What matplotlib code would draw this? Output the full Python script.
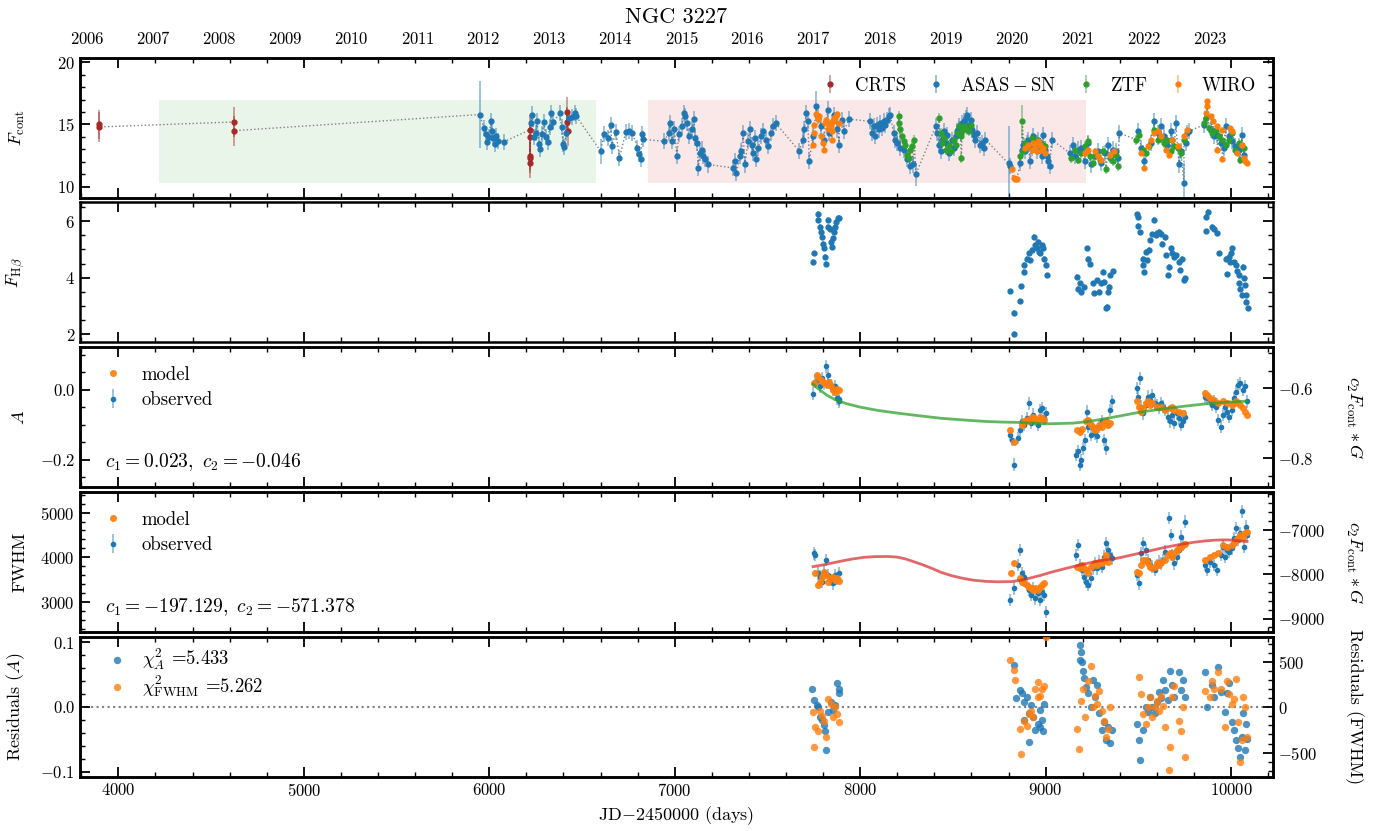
import numpy as np
import matplotlib
matplotlib.use('Agg')
import matplotlib.pyplot as plt
from matplotlib.ticker import MultipleLocator
from matplotlib.colors import to_rgba

plt.rcParams.update({
    'font.family': 'serif',
    'font.serif': ['cmr10'],
    'mathtext.fontset': 'cm',
    'axes.formatter.use_mathtext': True,
    'font.size': 12,
    'axes.linewidth': 1.8,
    'xtick.direction': 'in',
    'ytick.direction': 'in',
    'xtick.top': True,
    'ytick.right': True,
    'xtick.major.size': 7,
    'ytick.major.size': 7,
    'xtick.minor.size': 3.5,
    'ytick.minor.size': 3.5,
    'xtick.major.width': 1.3,
    'ytick.major.width': 1.3,
    'xtick.minor.width': 1.0,
    'ytick.minor.width': 1.0,
    'xtick.labelsize': 12,
    'ytick.labelsize': 12,
})

# ---------------- continuum light curve (JD - 2450000, flux) ----------------
crts_t = [3896, 3898, 4623, 4625, 6217, 6218, 6219, 6220, 6221, 6420, 6421, 6422]
crts_f = [15.0, 14.8, 15.2, 14.5, 14.55, 14.0, 12.5, 12.3, 11.9, 16.0, 15.2, 14.5]

asas_t = [5949, 5970, 5980, 5990, 6000, 6008, 6015, 6022, 6030, 6038, 6045, 6078,
          6223, 6232, 6240, 6250, 6258, 6268, 6276, 6285, 6295, 6305, 6315, 6325, 6335, 6346,
          6380, 6390, 6398, 6405, 6415, 6430, 6445, 6460, 6467,
          6601, 6617, 6638, 6656, 6660, 6683, 6702, 6736, 6754, 6772, 6799, 6807, 6816, 6825, 6830,
          6941, 6968, 6977, 6986, 6998, 7012, 7021, 7039, 7048, 7057, 7066, 7075, 7093, 7102,
          7111, 7119, 7128, 7134, 7146, 7155, 7164, 7182,
          7316, 7325, 7333, 7351, 7360, 7369, 7378, 7396, 7405, 7414, 7422, 7431, 7440, 7449,
          7467, 7476, 7494, 7503, 7521, 7529, 7544,
          7672, 7690, 7699, 7708, 7717, 7726, 7744, 7762, 7770, 7788, 7806, 7824, 7833, 7851,
          7860, 7877, 7886, 7904, 7913, 7939,
          8055, 8064, 8073, 8082, 8091, 8100, 8109, 8118, 8127, 8136, 8144, 8153, 8162, 8180,
          8189, 8198, 8216, 8234, 8252, 8269, 8287, 8300,
          8407, 8416, 8425, 8434, 8443, 8452, 8461, 8470, 8479, 8496, 8505, 8514, 8523, 8532,
          8541, 8550, 8559, 8568, 8577, 8586, 8595, 8604, 8613, 8621, 8630, 8648, 8657, 8666, 8675,
          8800, 8809, 8863, 8871, 8880, 8889, 8898, 8907, 8916, 8925, 8934, 8943, 8952, 8961,
          8970, 8979, 8988, 8996, 9005, 9014, 9023, 9032,
          9130, 9148, 9157, 9175, 9193, 9211, 9229, 9246, 9264, 9282, 9300, 9318, 9336, 9354,
          9362, 9380, 9389, 9398,
          9496, 9514, 9532, 9568, 9586, 9604, 9621, 9639, 9657, 9675, 9684, 9702, 9720, 9729,
          9746, 9755, 9764, 9773,
          9854, 9871, 9889, 9907, 9925, 9943, 9961, 9970, 9988, 10005, 10023, 10041, 10059, 10068]
asas_f = [15.8, 14.7, 14.2, 13.6, 14.0, 15.3, 14.5, 13.9, 13.4, 14.1, 13.7, 13.6,
          15.1, 15.8, 14.0, 14.3, 15.3, 13.4, 13.0, 14.2, 15.2, 14.0, 13.6, 14.8, 15.9, 15.2,
          15.9, 14.8, 13.4, 13.2, 14.3, 15.5, 15.6, 15.9, 15.7,
          12.85, 14.2, 13.9, 14.98, 13.25, 14.4, 12.3, 14.4, 14.45, 14.3, 13.1, 12.6, 12.2, 14.2, 13.8,
          13.65, 14.3, 15.1, 13.65, 14.6, 12.45, 14.2, 14.85, 15.9, 15.65, 15.1, 14.05, 14.6, 15.4,
          13.9, 13.5, 11.5, 12.7, 12.98, 12.45, 12.2, 11.78,
          11.5, 12.05, 11.1, 12.45, 12.85, 14.3, 11.78, 13.65, 14.6, 13.38, 12.7, 13.9, 12.2, 13.1,
          14.05, 14.45, 13.78, 13.25, 14.3, 14.85, 15.1,
          12.85, 13.78, 14.6, 15.9, 15.25, 12.05, 14.05, 16.45, 15.65, 14.85, 13.78, 16.2, 14.3, 15.25,
          15.78, 14.6, 13.38, 15.38, 14.45, 15.43,
          15.25, 14.3, 14.85, 14.05, 14.98, 14.6, 15.1, 14.7, 15.25, 14.98, 15.38, 15.65, 15.78, 14.3,
          13.78, 13.5, 13.1, 12.98, 12.2, 11.65, 11.78, 10.98,
          14.85, 14.31, 13.38, 12.85, 13.78, 14.45, 13.51, 14.18, 12.71, 13.78, 13.11, 14.05, 14.45, 14.85,
          14.31, 15.11, 15.25, 15.51, 15.78, 14.98, 15.38, 14.58, 14.18, 13.78, 14.31, 13.38, 13.51, 13.11, 13.78,
          11.86, 11.65, 11.91, 12.98, 13.38, 12.85, 13.51, 13.78, 12.05, 13.11, 14.05, 13.51, 12.85, 13.78,
          13.25, 12.45, 14.18, 12.98, 12.45, 12.05, 11.65, 13.78,
          12.71, 13.38, 12.45, 12.98, 13.11, 12.05, 13.51, 11.78, 12.45, 12.85, 11.91, 12.71, 13.38, 12.45,
          12.98, 12.85, 12.31, 14.31,
          14.45, 13.11, 12.05, 13.51, 15.25, 14.31, 14.85, 14.05, 13.38, 14.45, 13.78, 15.11, 11.78, 12.85,
          10.31, 13.51, 14.31, 14.45,
          14.98, 15.65, 14.58, 14.05, 14.18, 13.51, 13.11, 14.85, 14.05, 13.65, 13.25, 12.98, 14.18, 12.58]
# points with much larger uncertainties than the typical ASAS-SN error
asas_big_err = {5949: 2.7, 6601: 1.0, 7762: 1.2, 8300: 0.9, 8800: 3.0, 9746: 1.6}

ztf_t = [8207, 8211, 8216, 8225, 8234, 8243, 8252, 8261, 8269, 8278, 8292,
         8425, 8434, 8443, 8452, 8461, 8479, 8488, 8505, 8514, 8523, 8532, 8541, 8546, 8550,
         8559, 8577, 8586, 8595,
         8863, 8875, 8880, 8889, 8907, 8925, 8952, 8961, 8979, 8996,
         9139, 9157, 9175, 9193, 9211, 9229, 9237, 9255, 9273, 9291, 9309, 9327, 9345, 9362, 9380, 9389,
         9487, 9505, 9523, 9541, 9559, 9586, 9604, 9621, 9639, 9657, 9675, 9693, 9711, 9729, 9746,
         9854, 9862, 9880, 9898, 9916, 9934, 9952, 9970, 9988, 10005, 10023, 10041, 10050, 10068]
ztf_f = [15.65, 15.1, 14.6, 14.05, 13.65, 13.38, 12.58, 12.3, 12.98, 13.25, 13.78,
         15.51, 14.31, 13.51, 13.91, 12.98, 13.38, 12.85, 13.78, 13.38, 14.31, 14.85, 14.05, 12.31, 14.58,
         14.85, 14.58, 14.45, 14.98,
         12.45, 15.25, 12.85, 13.51, 13.25, 13.91, 13.78, 13.51, 13.38, 13.25,
         12.31, 12.98, 12.18, 12.71, 13.25, 13.65, 12.45, 11.91, 12.58, 12.18, 12.85, 11.38, 12.31, 12.05, 12.58, 11.65,
         13.78, 14.18, 12.98, 12.71, 13.25, 14.58, 13.78, 13.91, 13.51, 13.78, 12.85, 13.25, 13.11, 12.71, 13.78,
         15.11, 15.51, 14.71, 14.31, 14.58, 14.05, 13.78, 13.38, 13.78, 14.31, 12.98, 13.51, 12.18, 13.11]

wiro_t = [7744, 7749, 7752, 7761, 7770, 7779, 7788, 7797, 7806, 7811, 7818, 7824, 7833, 7842,
          7847, 7850, 7854, 7860, 7868, 7877, 7886,
          8818, 8827, 8836, 8845, 8889, 8907, 8925, 8934, 8943, 8952, 8961, 8970, 8979, 8988, 8996,
          9211, 9229, 9264, 9282, 9300, 9345, 9371,
          9514, 9532, 9550, 9568, 9586, 9604, 9621, 9648, 9666, 9684, 9711, 9746, 9764,
          9862, 9868, 9871, 9893, 9904, 9925, 9926, 9952, 9953, 9996, 10005, 10032, 10059, 10068,
          10077, 10086]
wiro_f = [13.38, 14.3, 14.98, 15.86, 15.43, 15.65, 14.05, 13.5, 12.98, 15.1, 15.38, 14.6, 15.1, 14.85,
          13.78, 14.45, 15.25, 15.51, 15.7, 15.86, 15.1,
          11.38, 10.71, 10.58, 10.63, 13.11, 13.38, 12.98, 13.51, 13.25, 12.85, 13.65, 13.38, 12.98, 13.11, 12.71,
          12.71, 12.98, 12.85, 12.45, 12.18, 12.58, 12.85,
          12.71, 11.51, 13.25, 13.78, 14.31, 14.45, 14.05, 12.98, 12.58, 13.78, 13.25, 14.05, 14.58,
          15.91, 16.85, 16.45, 15.65, 15.25, 14.85, 12.98, 14.58, 12.24, 14.71, 14.45, 12.71, 13.38, 12.31,
          12.05, 11.91]

# ---------------- H-beta line flux ----------------
hb_t = [7746, 7753, 7770, 7774, 7781, 7789, 7793, 7800, 7805, 7812, 7817, 7824, 7829, 7836,
        7841, 7846, 7853, 7860, 7865, 7872, 7879, 7888,
        8810, 8827, 8831, 8862, 8869, 8881, 8886, 8898, 8910, 8917, 8929, 8938, 8945, 8952,
        8957, 8964, 8971, 8981, 8986, 8993, 9000, 9005,
        9171, 9176, 9183, 9190, 9207, 9223, 9230, 9238, 9254, 9261, 9278, 9290, 9297, 9309,
        9314, 9325, 9333, 9337, 9344, 9349, 9361,
        9492, 9499, 9496, 9508, 9523, 9527, 9532, 9539, 9546, 9556, 9565, 9575, 9584, 9594,
        9603, 9613, 9622, 9629, 9641, 9651, 9660, 9665, 9675, 9684, 9694, 9705, 9717, 9724,
        9736, 9746, 9753,
        9862, 9867, 9874, 9895, 9907, 9926, 9936, 9974, 9979, 9990, 9992, 9998, 10005, 10014,
        10026, 10031, 10040, 10045, 10050, 10057, 10064, 10069, 10074, 10078, 10083, 10090]
hb_f = [4.56, 4.86, 6.27, 6.04, 5.8, 5.62, 5.45, 5.21, 5.04, 4.74, 4.5, 5.8, 6.04, 5.74,
        5.27, 5.09, 5.39, 5.62, 5.8, 5.98, 6.1, 6.12,
        3.53, 2.77, 2.03, 3.17, 3.7, 4.21, 4.45, 4.68, 4.86, 4.62, 4.98, 5.45, 5.15, 5.04,
        5.27, 4.92, 4.86, 5.15, 5.04, 4.68, 4.45, 4.09,
        4.03, 3.62, 3.8, 3.5, 3.68, 5.04, 4.68, 4.5, 3.8, 3.45, 3.92, 3.5, 3.8, 4.21,
        3.86, 2.92, 2.97, 3.5, 3.68, 4.09, 4.23,
        6.24, 6.15, 5.84, 5.6, 4.68, 4.45, 4.19, 4.92, 4.62, 4.98, 5.33, 5.53, 6.04, 5.51,
        5.57, 5.62, 5.53, 5.21, 5.45, 4.8, 4.09, 4.39, 5.04, 4.86, 4.74, 4.8, 4.56, 4.27,
        4.68, 3.92, 3.98,
        5.65, 6.15, 6.33, 5.8, 5.74, 5.57, 4.86, 4.68, 4.12, 4.74, 4.56, 4.86, 5.04, 4.54,
        4.45, 4.23, 4.09, 3.8, 3.62, 3.39, 4.39, 3.98, 3.74, 3.39, 3.15, 2.92]

# ---------------- line asymmetry A ----------------
a_obs_t = [7746, 7758, 7770, 7781, 7793, 7805, 7817, 7824, 7829, 7841, 7853, 7865, 7877, 7884, 7888,
           8810, 8819, 8829, 8850, 8862, 8874, 8886, 8898, 8910, 8922, 8933, 8945, 8957, 8969,
           8981, 8993, 9000,
           9166, 9176, 9183, 9190, 9200, 9214, 9223, 9230, 9242, 9254, 9266, 9278, 9290, 9302,
           9314, 9325, 9337, 9349, 9356,
           9492, 9499, 9508, 9515, 9527, 9539, 9551, 9563, 9575, 9587, 9599, 9610, 9622, 9634,
           9646, 9658, 9670, 9682, 9694, 9706, 9717, 9729, 9741, 9753,
           9860, 9872, 9884, 9895, 9907, 9919, 9931, 9943, 9955, 9967, 9979, 9991, 10003, 10015,
           10026, 10038, 10050, 10062, 10074, 10086]
a_obs = [-0.011, 0.024, 0.029, 0.010, 0.033, 0.019, 0.067, 0.043, 0.024, 0.014, 0.0, 0.010, -0.024, -0.033, -0.027,
         -0.129, -0.143, -0.214, -0.138, -0.114, -0.090, -0.100, -0.081, -0.038, -0.095, -0.071, -0.086, -0.100, -0.057,
         -0.052, -0.081, -0.067,
         -0.186, -0.176, -0.214, -0.200, -0.167, -0.143, -0.062, -0.105, -0.129, -0.110, -0.124, -0.133, -0.105, -0.090,
         -0.143, -0.167, -0.095, -0.057, -0.033,
         0.005, -0.019, 0.033, -0.048, -0.067, -0.043, -0.019, -0.029, -0.014, -0.038, -0.043, -0.052, -0.038, -0.048,
         -0.057, -0.076, -0.090, -0.071, -0.095, -0.067, -0.081, -0.100, -0.090, -0.076,
         -0.019, -0.024, -0.029, -0.043, -0.033, -0.048, -0.086, -0.105, -0.071, -0.048, -0.062, -0.076, -0.057, -0.024,
         -0.005, 0.014, 0.019, 0.0, 0.010, -0.033]
a_mod_t = [7751, 7765, 7774, 7789, 7798, 7812, 7822, 7831, 7841, 7853, 7865, 7877, 7888,
           8810, 8827, 8874, 8886, 8898, 8910, 8922, 8933, 8945, 8957, 8969, 8981, 8993,
           9171, 9183, 9195, 9219, 9230, 9242, 9254, 9266, 9278, 9290, 9302, 9314, 9325, 9337, 9349,
           9492, 9503, 9515, 9527, 9539, 9551, 9563, 9575, 9599, 9622, 9646, 9670, 9682, 9694, 9717, 9741,
           9860, 9872, 9888, 9907, 9931, 9955, 9979, 10003, 10015, 10026, 10038, 10050, 10062, 10074, 10086]
a_mod = [0.019, 0.043, 0.038, 0.029, 0.024, 0.019, 0.014, 0.024, 0.010, 0.0, -0.005, 0.002, 0.0,
         -0.114, -0.148, -0.100, -0.090, -0.086, -0.090, -0.081, -0.078, -0.084, -0.086, -0.076, -0.081, -0.086,
         -0.114, -0.119, -0.112, -0.090, -0.086, -0.100, -0.107, -0.114, -0.110, -0.100, -0.107, -0.095, -0.090, -0.100, -0.095,
         -0.033, -0.048, -0.062, -0.052, -0.038, -0.033, -0.043, -0.038, -0.048, -0.048, -0.057, -0.052, -0.048, -0.057, -0.062, -0.067,
         -0.010, -0.014, -0.024, -0.029, -0.038, -0.033, -0.038, -0.043, -0.038, -0.033, -0.038, -0.043, -0.052, -0.062, -0.071]
# c2 * F_cont * G term for A (right-hand axis)
a_gterm_t = [7746, 7770, 7793, 7820, 7865, 7930, 8007, 8100, 8197, 8320, 8435, 8560, 8672, 8770,
             8862, 9000, 9147, 9220, 9290, 9385, 9504, 9622, 9741, 9860, 9979, 10086]
a_gterm = [-0.589, -0.600, -0.609, -0.620, -0.633, -0.645, -0.655, -0.664, -0.671, -0.679, -0.686,
           -0.691, -0.695, -0.697, -0.698, -0.702, -0.700, -0.696, -0.690, -0.681, -0.669, -0.660,
           -0.652, -0.645, -0.640, -0.637]

# ---------------- line width FWHM ----------------
w_obs_t = [7751, 7758, 7770, 7781, 7793, 7805, 7817, 7829, 7841, 7853, 7865, 7877, 7888,
           8810, 8827, 8850, 8862, 8874, 8886, 8898, 8910, 8922, 8933, 8945, 8957, 8969, 8981, 8993, 9000,
           9166, 9176, 9183, 9195, 9207, 9219, 9230, 9242, 9254, 9266, 9278, 9290, 9302, 9314,
           9325, 9337, 9349, 9356,
           9492, 9503, 9515, 9527, 9539, 9551, 9563, 9575, 9587, 9599, 9610, 9622, 9634, 9646,
           9665, 9675, 9684, 9694, 9706, 9717, 9729, 9741, 9753,
           9860, 9872, 9888, 9907, 9926, 9943, 9955, 9967, 9979, 9991, 10003, 10015, 10026, 10038,
           10050, 10057, 10069, 10078, 10086]
w_obs = [4093, 4056, 3646, 3572, 3460, 3684, 3944, 3609, 3498, 3423, 3609, 3535, 3646,
         3051, 3312, 3832, 4167, 3646, 3572, 3386, 3274, 3163, 3312, 3088, 3200, 3051, 3237, 3163, 2791,
         4056, 4279, 3832, 3721, 3572, 3460, 3386, 3535, 3758, 3870, 3758, 3907, 3795, 4018,
         4316, 4167, 4056, 3981,
         3609, 3423, 4093, 4316, 4167, 3944, 3832, 3795, 3721, 3832, 3907, 3870, 3944, 4130,
         4874, 4502, 4056, 3870, 4018, 4167, 4465, 4279, 4800,
         3832, 3721, 3907, 3832, 3721, 4056, 4242, 4018, 4167, 4130, 4204, 4428, 4651, 4390,
         4539, 5023, 4242, 4688, 4502]
w_mod_t = [7758, 7770, 7781, 7793, 7805, 7817, 7829, 7841, 7853, 7865, 7877, 7888,
           8815, 8827, 8862, 8874, 8886, 8898, 8910, 8922, 8933, 8945, 8957, 8969, 8981, 8993,
           9171, 9183, 9195, 9207, 9219, 9230, 9242, 9254, 9266, 9278, 9290, 9302, 9314, 9325, 9337,
           9492, 9503, 9515, 9527, 9539, 9551, 9563, 9575, 9587, 9599, 9610, 9622, 9646, 9658, 9670,
           9682, 9694, 9706, 9717, 9729, 9741, 9753,
           9860, 9884, 9907, 9931, 9955, 9979, 10003, 10015, 10026, 10038, 10050, 10062, 10074, 10086]
w_mod = [3646, 3386, 3460, 3572, 3684, 3609, 3460, 3535, 3572, 3498, 3535, 3475,
         3646, 3870, 3535, 3460, 3423, 3386, 3349, 3312, 3274, 3312, 3274, 3349, 3386, 3423,
         3795, 3758, 3832, 3758, 3721, 3646, 3795, 3832, 3870, 3832, 3907, 3870, 3944, 4056, 3907,
         3684, 3646, 3832, 3944, 3944, 3870, 3795, 3758, 3795, 3870, 3832, 3907, 3944, 4056, 4093,
         4018, 4093, 4167, 4204, 4242, 4279, 4294,
         3944, 4018, 4056, 4093, 4279, 4242, 4279, 4316, 4390, 4428, 4502, 4465, 4539, 4576]
# c2 * F_cont * G term for FWHM (right-hand axis)
w_gterm_t = [7746, 7800, 7841, 7900, 7960, 8020, 8078, 8150, 8200, 8245, 8290, 8340, 8390, 8435,
             8490, 8553, 8610, 8672, 8740, 8815, 8860, 8910, 8970, 9028, 9090, 9147, 9210, 9266,
             9325, 9385, 9445, 9504, 9565, 9622, 9680, 9741, 9800, 9860, 9910, 9955, 9990, 10026,
             10060, 10086]
w_gterm = [-7830, -7790, -7754, -7703, -7656, -7620, -7604, -7600, -7615, -7656, -7720, -7792, -7875,
           -7957, -8030, -8093, -8135, -8161, -8172, -8168, -8140, -8093, -8030, -7957, -7890,
           -7830, -7770, -7716, -7676, -7641, -7585, -7528, -7470, -7415, -7365, -7317, -7280,
           -7249, -7233, -7226, -7228, -7241, -7255, -7264]

# ---------------- fit residuals ----------------
res_a_t = [7741, 7751, 7765, 7774, 7781, 7793, 7805, 7812, 7817, 7829, 7841, 7853, 7865, 7877, 7884, 7888,
           8827, 8838, 8862, 8874, 8886, 8898, 8910, 8922, 8933, 8945, 8957, 8969, 8981, 8988, 8993,
           8910, 8886, 8969,
           9183, 9190, 9195, 9185, 9200, 9207, 9219, 9230, 9242, 9254, 9266, 9278, 9290, 9302,
           9314, 9325, 9337, 9349, 9356,
           9492, 9503, 9508, 9523, 9539, 9551, 9563, 9575, 9587, 9599, 9610, 9622, 9634, 9646,
           9658, 9670, 9682, 9694, 9717, 9729, 9741, 9753,
           9860, 9872, 9895, 9907, 9931, 9943, 9967, 9979, 9991, 10003, 10015, 10026, 10038, 10050,
           10057, 10062, 10074, 10081, 10086]
res_a = [0.027, 0.010, 0.003, 0.0, -0.015, -0.020, -0.028, -0.038, -0.066, -0.008, 0.008, -0.005, 0.003, 0.036, 0.028, 0.021,
         0.064, 0.013, 0.026, 0.021, 0.008, 0.015, -0.010, 0.003, -0.015, -0.036, -0.026, -0.005, -0.020, -0.038, 0.005,
         -0.054, -0.020, -0.031,
         0.095, 0.085, 0.069, 0.072, 0.056, 0.044, 0.031, 0.021, 0.0, 0.041, 0.015, 0.033, -0.010, -0.036,
         -0.023, -0.051, -0.031, -0.056, -0.036,
         -0.026, -0.051, -0.082, -0.036, 0.0, -0.008, 0.015, 0.0, -0.010, 0.008, 0.023, 0.013, 0.041, 0.026,
         0.010, 0.056, 0.033, 0.015, 0.054, 0.026, 0.041, 0.015,
         0.053, 0.0, 0.033, 0.015, 0.062, 0.023, -0.008, 0.021, 0.036, -0.023, -0.036, -0.051, -0.064, -0.077,
         -0.046, -0.010, -0.067, -0.026, -0.049]
res_w_t = [7746, 7751, 7758, 7770, 7781, 7793, 7805, 7817, 7829, 7841, 7853, 7865, 7877, 7888,
           8810, 8827, 8834, 8862, 8867, 8886, 8898, 8910, 8922, 8933, 8945, 8957, 8969, 8981, 8993, 9000, 8957,
           9171, 9178, 9190, 9200, 9214, 9230, 9242, 9254, 9266, 9278, 9290, 9302, 9314, 9325, 9337, 9349,
           9503, 9515, 9527, 9539, 9551, 9563, 9575, 9587, 9599, 9610, 9622, 9634, 9646, 9665, 9670,
           9682, 9694, 9717, 9729, 9741, 9753,
           9860, 9884, 9895, 9907, 9931, 9943, 9967, 9979, 9991, 10003, 10015, 10026, 10038, 10050,
           10057, 10062, 10074, 10086]
res_w = [-55, -440, -220, -257, -37, -92, -147, -330, 92, 37, -110, 0, -73, -165,
         520, 410, 300, -238, -513, -147, -201, -73, -37, -110, 202, 275, 128, 202, 238, 778, 110,
         -238, -458, 73, 202, -110, 293, 458, 0, 128, 37, 183, -37, -147, -330, -238, 0,
         330, 147, -73, -183, 0, 110, -110, 0, 73, -37, 128, 18, -220, -696, -440,
         110, 238, -147, -257, 0, -550,
         183, 110, 293, 202, 385, 202, -220, 293, 147, 37, 92, 311, -165, -605,
         -366, 110, 0, -330]

surveys = [('CRTS', crts_t, crts_f, 1.2, 'brown'),
           ('$\\rm ASAS-SN$', asas_t, asas_f, 0.65, 'tab:blue'),
           ('ZTF', ztf_t, ztf_f, 0.4, 'tab:green'),
           ('WIRO', wiro_t, wiro_f, 0.2, 'tab:orange')]

fig, axes = plt.subplots(5, 1, figsize=(13.74, 8.31), dpi=100, sharex=True,
                         gridspec_kw={'hspace': 0.035})
fig.subplots_adjust(left=0.0582, right=0.9265, top=0.9306, bottom=0.0653)
ax1, ax2, ax3, ax4, ax5 = axes


def ebar(ax, t, y, err, color, ms=3, label=None, zorder=3):
    return ax.errorbar(t, y, yerr=err, fmt='o', color=color, ms=ms, elinewidth=1.1,
                       ecolor=to_rgba(color, 0.55), capsize=0, label=label, zorder=zorder)


# Panel 1: continuum light curve
all_t = np.concatenate([np.array(s[1], float) for s in surveys])
all_f = np.concatenate([np.array(s[2], float) for s in surveys])
order = np.argsort(all_t, kind='stable')
ax1.plot(all_t[order], all_f[order], ls=':', color='gray', lw=1.0, zorder=1)
ax1.fill_between([4217, 6574], 10.3, 17.0, color='tab:green', alpha=0.1, lw=0, zorder=0)
ax1.fill_between([6857, 9215], 10.3, 17.0, color='tab:red', alpha=0.1, lw=0, zorder=0)
for name, t, f, e, c in surveys:
    err = np.full(len(t), e)
    if name.startswith('$'):
        for i, ti in enumerate(t):
            err[i] = asas_big_err.get(ti, e)
    if name == 'ZTF':
        err[ztf_t.index(8875)] = 1.3
    ebar(ax1, t, f, err, c, ms=3.5, label=name)
ax1.set_ylim(9.12, 20.37)
ax1.yaxis.set_major_locator(MultipleLocator(5))
ax1.yaxis.set_minor_locator(MultipleLocator(1))
ax1.set_ylabel('$F_{\\rm cont}$', fontsize=13)
ax1.legend(loc='upper right', ncol=4, frameon=False, fontsize=13.5, handletextpad=0.5,
           columnspacing=0.8, handlelength=1.6, bbox_to_anchor=(1.0, 0.985))

# year axis on top
ax_top = ax1.twiny()
ax_top.set_xlim(2005.886, 2023.954)
ax_top.set_xticks(range(2006, 2024))
ax_top.tick_params(axis='x', which='both', length=0, pad=8, labelsize=12)
ax_top.set_title('NGC 3227', fontsize=16, pad=5)

# Panel 2: H-beta flux
ebar(ax2, hb_t, hb_f, 0.09, 'tab:blue', ms=3.5)
ax2.set_ylim(1.72, 6.66)
ax2.yaxis.set_major_locator(MultipleLocator(2))
ax2.yaxis.set_minor_locator(MultipleLocator(0.5))
ax2.set_ylabel('$F_{\\rm H\\beta}$', fontsize=13)

legend_kw = dict(loc='upper left', frameon=False, fontsize=13.5, handletextpad=0.8,
                 handlelength=1.5, borderaxespad=0.6, labelspacing=0.4)

# Panel 3: asymmetry with model
ebar(ax3, a_obs_t, a_obs, 0.018, 'tab:blue', ms=3, label='observed')
ax3.plot(a_mod_t, a_mod, 'o', color='tab:orange', ms=4, alpha=0.9, label='model', zorder=4)
ax3.set_ylim(-0.278, 0.122)
ax3.yaxis.set_major_locator(MultipleLocator(0.2))
ax3.yaxis.set_minor_locator(MultipleLocator(0.05))
ax3.set_ylabel('$A$', fontsize=13)
ax3.legend(**legend_kw)
ax3.text(0.021, 0.18, '$c_1 = 0.023,\\ c_2 = -0.046$', transform=ax3.transAxes,
         fontsize=14, va='center')
ax3r = ax3.twinx()
ax3r.plot(a_gterm_t, a_gterm, color='tab:green', lw=2, alpha=0.75)
ax3r.set_ylim(-0.883, -0.483)
ax3r.yaxis.set_major_locator(MultipleLocator(0.2))
ax3r.yaxis.set_minor_locator(MultipleLocator(0.05))
ax3r.set_ylabel('$c_2F_{\\rm cont}*G$', fontsize=13, rotation=270, va='center')
ax3r.yaxis.set_label_coords(1.068, 0.5)

# Panel 4: FWHM with model
ebar(ax4, w_obs_t, w_obs, 140, 'tab:blue', ms=3, label='observed')
ax4.plot(w_mod_t, w_mod, 'o', color='tab:orange', ms=4, alpha=0.9, label='model', zorder=4)
ax4.set_ylim(2344, 5455)
ax4.yaxis.set_major_locator(MultipleLocator(1000))
ax4.yaxis.set_minor_locator(MultipleLocator(200))
ax4.set_ylabel('FWHM', fontsize=13)
ax4.legend(**legend_kw)
ax4.text(0.021, 0.18, '$c_1 = -197.129,\\ c_2 = -571.378$', transform=ax4.transAxes,
         fontsize=14, va='center')
ax4r = ax4.twinx()
ax4r.plot(w_gterm_t, w_gterm, color='tab:red', lw=2, alpha=0.7)
ax4r.set_ylim(-9303, -6147)
ax4r.yaxis.set_major_locator(MultipleLocator(1000))
ax4r.yaxis.set_minor_locator(MultipleLocator(200))
ax4r.set_ylabel('$c_2F_{\\rm cont}*G$', fontsize=13, rotation=270, va='center')
ax4r.yaxis.set_label_coords(1.068, 0.5)

# Panel 5: residuals of both fits
ax5.axhline(0, color='gray', ls=':', lw=1.5, zorder=1)
sa = ax5.scatter(res_a_t, res_a, s=28, color='tab:blue', alpha=0.8, lw=0, zorder=3)
ax5.set_ylim(-0.108, 0.108)
ax5.yaxis.set_major_locator(MultipleLocator(0.1))
ax5.yaxis.set_minor_locator(MultipleLocator(0.02))
ax5.set_ylabel('Residuals ($A$)', fontsize=13)
ax5r = ax5.twinx()
sw = ax5r.scatter(res_w_t, res_w, s=28, color='tab:orange', alpha=0.8, lw=0, zorder=3)
ax5r.set_ylim(-765, 775)
ax5r.yaxis.set_major_locator(MultipleLocator(500))
ax5r.yaxis.set_minor_locator(MultipleLocator(100))
ax5r.set_ylabel('Residuals (FWHM)', fontsize=13, rotation=270, va='center')
ax5r.yaxis.set_label_coords(1.068, 0.5)
ax5.legend([sa, sw], ['$\\chi^2_A$ =5.433', '$\\chi^2_{\\rm FWHM}$ =5.262'], loc='upper left',
           frameon=False, fontsize=13.5, handletextpad=0.6, handlelength=1.5, borderaxespad=0.2,
           borderpad=0.3, labelspacing=0.05, bbox_to_anchor=(0.011, 1.0))

ax5.set_xlim(3793, 10226)
ax5.xaxis.set_major_locator(MultipleLocator(1000))
ax5.xaxis.set_minor_locator(MultipleLocator(200))
ax5.set_xlabel('JD$-$2450000 (days)', fontsize=13)

for ax in axes:
    ax.tick_params(which='both', top=True)
    ax.yaxis.set_label_coords(-0.044, 0.5)
for ax in (ax3r, ax4r, ax5r):
    ax.tick_params(which='both', right=True, left=False)

fig.savefig('out.png', dpi=100)
